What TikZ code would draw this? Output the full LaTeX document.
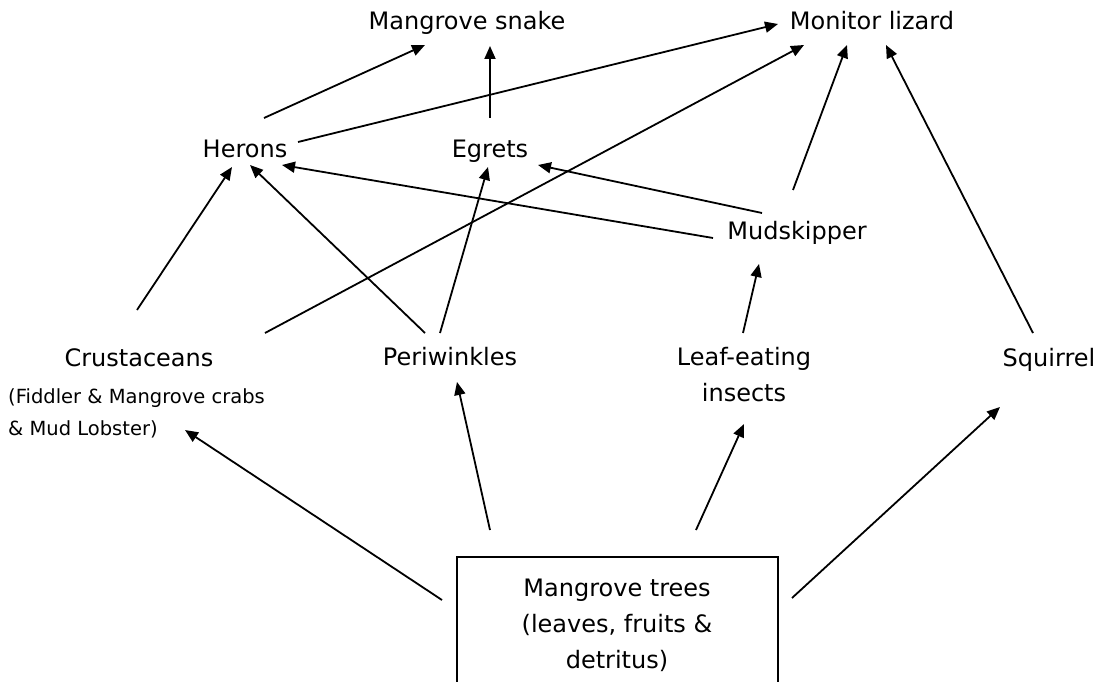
\documentclass[tikz,border=0pt]{standalone}
\usepackage{fontspec}
\setmainfont{DejaVu Sans}
\usetikzlibrary{arrows.meta}
\begin{document}
\begin{tikzpicture}[x=1pt,y=-1pt,
  lbl/.style={inner sep=0pt,anchor=base,font=\fontsize{24}{36}\selectfont,align=center},
  sublbl/.style={inner sep=0pt,anchor=base west,font=\fontsize{19.5}{32}\selectfont,align=left},
  feeds/.style={line width=1.8pt,-{Triangle[length=13pt,width=11pt]}}]
\useasboundingbox (0,0) rectangle (1101,682);
% labels (multi-line nodes are placed by their last baseline)
\node[lbl] (snake) at (467,30) {Mangrove snake};
\node[lbl] (lizard) at (872,30) {Monitor lizard};
\node[lbl] (herons) at (245,158) {Herons};
\node[lbl] (egrets) at (490,158) {Egrets};
\node[lbl] (mud) at (797,240) {Mudskipper};
\node[lbl] (crust) at (139,366) {Crustaceans};
\node[sublbl] (crustsub) at (8,435) {(Fiddler \& Mangrove crabs\\\& Mud Lobster)};
\node[lbl] (peri) at (450,365) {Periwinkles};
\node[lbl] (leaf) at (744,401) {Leaf-eating\\insects};
\node[lbl] (squirrel) at (1049,366) {Squirrel};
\node[lbl] (trees) at (617,668) {Mangrove trees\\(leaves, fruits \&\\detritus)};
% box (bottom edge cut by page)
\draw[line width=1.3pt] (457,700) -- (457,557) -- (778,557) -- (778,700);
% end points
\coordinate (a1) at (264,118); \coordinate (b1) at (425,45);
\coordinate (a2) at (490,118); \coordinate (b2) at (490,46);
\coordinate (a3) at (298,142); \coordinate (b3) at (778,24);
\coordinate (a4) at (265,333); \coordinate (b4) at (804,45);
\coordinate (a5) at (793,190); \coordinate (b5) at (847,45);
\coordinate (a6) at (1033,333); \coordinate (b6) at (886,45);
\coordinate (a7) at (137,310); \coordinate (b7) at (232,167);
\coordinate (a8) at (425,333); \coordinate (b8) at (250,165);
\coordinate (a9) at (713,238); \coordinate (b9) at (282,165);
\coordinate (a10) at (440,333); \coordinate (b10) at (488,167);
\coordinate (a11) at (762,213); \coordinate (b11) at (538,165);
\coordinate (a12) at (743,333); \coordinate (b12) at (759,264);
\coordinate (a13) at (442,600); \coordinate (b13) at (185,430);
\coordinate (a14) at (490,530); \coordinate (b14) at (457,382);
\coordinate (a15) at (696,530); \coordinate (b15) at (744,424);
\coordinate (a16) at (792,598); \coordinate (b16) at (1000,407);
\foreach \i in {1,...,16} \draw[feeds] (a\i) -- (b\i);
\end{tikzpicture}
\end{document}
